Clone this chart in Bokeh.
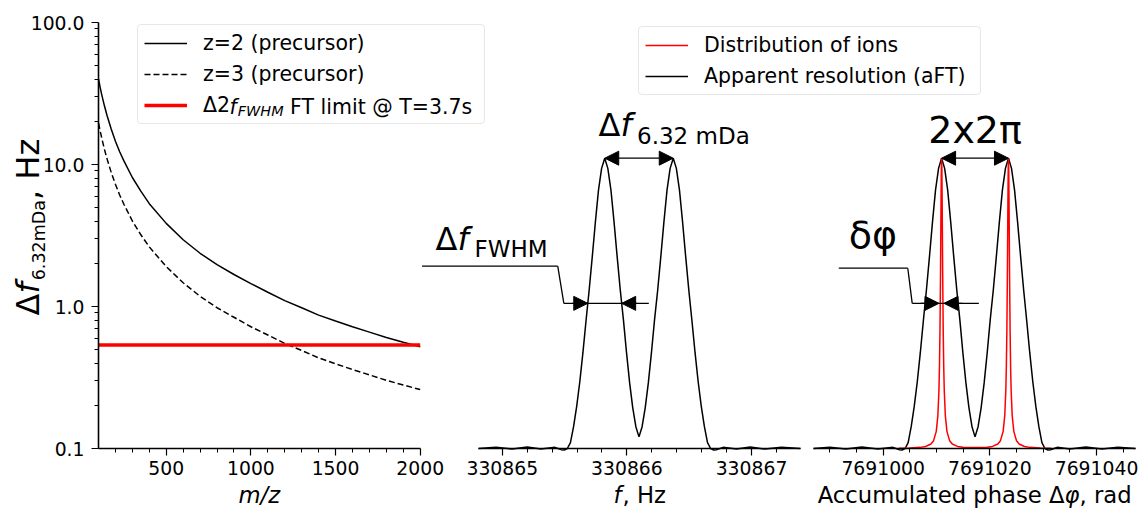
import math
from bokeh.plotting import figure
from bokeh.models import (Range1d, LogScale, LinearAxis, LogAxis, FixedTicker,
                          PrintfTickFormatter, Legend, LegendItem, Label, Arrow, NormalHead)
from bokeh.embed import file_html
from bokeh.resources import INLINE

FONT = "DejaVu Sans"

# ---------------- data ----------------
# Panel 1: frequency spacing of a 6.32 mDa mass difference vs m/z
mz = [100, 110, 120, 135, 150, 175, 200, 225, 250, 300, 350, 400, 500, 600, 700,
      800, 900, 1000, 1100, 1200, 1300, 1400, 1500, 1600, 1700, 1800, 1900, 2000]
df_z2 = [40.0, 34.8, 30.7, 25.9, 22.2, 17.8, 14.6, 12.3, 10.6, 8.1, 6.5, 5.3, 3.85,
         2.95, 2.37, 1.97, 1.68, 1.45, 1.26, 1.10, 0.98, 0.87, 0.79, 0.72, 0.66,
         0.605, 0.56, 0.52]
df_z3 = [19.6, 17.2, 15.2, 12.8, 11.0, 8.8, 7.25, 6.1, 5.25, 4.0, 3.2, 2.63, 1.91,
         1.47, 1.18, 0.98, 0.84, 0.72, 0.63, 0.55, 0.49, 0.435, 0.395, 0.36, 0.33,
         0.302, 0.28, 0.26]
ft_limit_mz = [100, 2000]
ft_limit = [0.535, 0.535]

# Panel 2: apparent (aFT) spectrum in frequency domain
freq_core = [330865.422, 330865.447, 330865.472, 330865.497, 330865.522, 330865.547,
             330865.572, 330865.597, 330865.622, 330865.647, 330865.672, 330865.697,
             330865.722, 330865.747, 330865.772, 330865.797, 330865.822, 330865.847,
             330865.872, 330865.897, 330865.922, 330865.947, 330865.972, 330865.997,
             330866.022, 330866.047, 330866.072, 330866.097, 330866.122, 330866.147,
             330866.172, 330866.197, 330866.222, 330866.247, 330866.272, 330866.297,
             330866.322, 330866.347, 330866.372, 330866.397, 330866.422, 330866.447,
             330866.472, 330866.497, 330866.522, 330866.547, 330866.572, 330866.597,
             330866.622, 330866.647, 330866.672, 330866.697, 330866.722, 330866.747,
             330866.772]
aft_core = [0.004, 0.0, -0.004, -0.005, 0.0, 0.02, 0.075, 0.145, 0.23, 0.33, 0.44,
            0.545, 0.66, 0.78, 0.89, 0.965, 1.0, 0.965, 0.89, 0.78, 0.66, 0.545, 0.444,
            0.33, 0.226, 0.14, 0.075, 0.04, 0.075, 0.14, 0.226, 0.33, 0.444, 0.545,
            0.66, 0.78, 0.89, 0.965, 1.0, 0.965, 0.89, 0.78, 0.66, 0.545, 0.44, 0.33,
            0.23, 0.145, 0.075, 0.02, 0.0, -0.005, -0.004, 0.0, 0.004]
freq_left = [330864.809, 330864.95, 330865.08, 330865.20, 330865.31]
freq_right = [330866.88, 330866.99, 330867.11, 330867.24, 330867.393]
ripple_left = [0.0, 0.004, -0.002, 0.005, -0.002]
ripple_right = [-0.002, 0.005, -0.002, 0.004, 0.0]

# Panel 3: same spectrum in accumulated-phase domain + ion distribution
phase_core = [7691001.83, 7691002.40, 7691002.97, 7691003.54, 7691004.11, 7691004.68,
              7691005.25, 7691005.82, 7691006.39, 7691006.96, 7691007.53, 7691008.10,
              7691008.67, 7691009.24, 7691009.81, 7691010.38, 7691010.95, 7691011.52,
              7691012.09, 7691012.66, 7691013.23, 7691013.80, 7691014.37, 7691014.94,
              7691015.51, 7691016.08, 7691016.65, 7691017.22, 7691017.79, 7691018.36,
              7691018.93, 7691019.50, 7691020.07, 7691020.64, 7691021.21, 7691021.78,
              7691022.35, 7691022.92, 7691023.49, 7691024.06, 7691024.63, 7691025.20,
              7691025.77, 7691026.34, 7691026.91, 7691027.48, 7691028.05, 7691028.62,
              7691029.19, 7691029.76, 7691030.33, 7691030.90, 7691031.47, 7691032.04,
              7691032.61]
phase_left = [7690986.93, 7690990.0, 7690993.0, 7690996.0, 7690999.0]
phase_right = [7691035.0, 7691038.0, 7691041.0, 7691044.0, 7691047.31]

ion_phase = [7691002.95, 7691004.95, 7691006.95, 7691007.95, 7691008.95, 7691009.45,
             7691009.95, 7691010.25, 7691010.45, 7691010.55, 7691010.65, 7691010.75,
             7691010.80, 7691010.85, 7691010.90, 7691010.95, 7691011.00, 7691011.05,
             7691011.10, 7691011.15, 7691011.25, 7691011.35, 7691011.45, 7691011.65,
             7691011.95, 7691012.45, 7691012.95, 7691013.95, 7691014.95, 7691015.95,
             7691017.22,
             7691018.49, 7691019.49, 7691020.49, 7691021.49, 7691021.99, 7691022.49,
             7691022.79, 7691022.99, 7691023.09, 7691023.19, 7691023.29, 7691023.34,
             7691023.39, 7691023.44, 7691023.49, 7691023.54, 7691023.59, 7691023.64,
             7691023.69, 7691023.79, 7691023.89, 7691023.99, 7691024.19, 7691024.49,
             7691024.99, 7691025.49, 7691026.49, 7691027.49, 7691029.49, 7691031.49]
ion_amp = [0.001, 0.0017, 0.0039, 0.0069, 0.0154, 0.027, 0.059, 0.113, 0.2, 0.281,
           0.41, 0.61, 0.735, 0.862, 0.962, 1.0, 0.962, 0.862, 0.735, 0.61, 0.41,
           0.281, 0.2, 0.113, 0.059, 0.027, 0.0154, 0.0072, 0.0043, 0.0031,
           0.0032,
           0.0031, 0.0043, 0.0072, 0.0154, 0.027, 0.059, 0.113, 0.2, 0.281, 0.41,
           0.61, 0.735, 0.862, 0.962, 1.0, 0.962, 0.862, 0.735, 0.61, 0.41, 0.281,
           0.2, 0.113, 0.059, 0.027, 0.0154, 0.0069, 0.0039, 0.0017, 0.001]

# ticks
mz_ticks = [500, 1000, 1500, 2000]
mz_minor = [200, 300, 400, 600, 700, 800, 900, 1100, 1200, 1300, 1400, 1600, 1700, 1800, 1900]
df_ticks = [0.1, 1, 10, 100]
df_minor = [0.2, 0.3, 0.4, 0.5, 0.6, 0.7, 0.8, 0.9, 2, 3, 4, 5, 6, 7, 8, 9,
            20, 30, 40, 50, 60, 70, 80, 90]
freq_ticks = [330865, 330866, 330867]
freq_minor = [330865.2, 330865.4, 330865.6, 330865.8, 330866.2, 330866.4, 330866.6,
              330866.8, 330867.2]
phase_ticks = [7691000, 7691020, 7691040]
phase_minor = [7690990, 7690995, 7691005, 7691010, 7691015, 7691025, 7691030,
               7691035, 7691045]

# ---------------- geometry helpers (canvas pixels -> data) ----------------
W, H = 1143, 512
def px_mz(px): return 100 + (px - 98) * (1900 / 321.7)
def px_hz(px): return 330865 + (px - 501.8) / 124.6
def px_ph(px): return 7691000 + (px - 882.7) / 5.3333
def py_amp(py): return (448 - py) / 290.3
def py_log(py): return 10 ** (-1 + (448 - py) / 142.0)

p = figure(width=W, height=H,
           x_range=Range1d(px_mz(0), px_mz(W)), y_range=Range1d(py_amp(H), py_amp(0)),
           x_axis_type=None, y_axis_type=None,
           toolbar_location=None, output_backend="svg",
           min_border=0, min_border_left=0, min_border_right=0,
           min_border_top=0, min_border_bottom=0)
p.outline_line_color = None
p.background_fill_color = "white"
p.border_fill_color = "white"
p.extra_y_ranges = {"log": Range1d(py_log(H), py_log(0))}
p.extra_y_scales = {"log": LogScale()}
p.extra_x_ranges = {"p2": Range1d(px_hz(0), px_hz(W)),
                    "p3": Range1d(px_ph(0), px_ph(W))}

def style(ax, standoff):
    ax.axis_line_width = 1.6
    ax.axis_line_color = "black"
    ax.major_tick_line_color = "black"
    ax.major_tick_line_width = 1.2
    ax.minor_tick_line_color = "black"
    ax.minor_tick_line_width = 1.0
    ax.major_tick_out = 7
    ax.major_tick_in = 0
    ax.minor_tick_out = 4
    ax.minor_tick_in = 0
    ax.major_label_text_font = FONT
    ax.major_label_text_font_size = "18.8px"
    ax.major_label_text_color = "black"
    ax.major_label_standoff = standoff

yax = LogAxis(y_range_name="log",
              ticker=FixedTicker(ticks=df_ticks, minor_ticks=df_minor),
              formatter=PrintfTickFormatter(format="%.1f"),
              bounds=(0.1, 100), fixed_location=100)
style(yax, 7)
p.add_layout(yax, "left")

ax1 = LinearAxis(ticker=FixedTicker(ticks=mz_ticks, minor_ticks=mz_minor),
                 formatter=PrintfTickFormatter(format="%d"),
                 bounds=(100, 2000), fixed_location=0)
ax2 = LinearAxis(x_range_name="p2",
                 ticker=FixedTicker(ticks=freq_ticks, minor_ticks=freq_minor),
                 formatter=PrintfTickFormatter(format="%d"),
                 bounds=(freq_left[0], freq_right[-1]), fixed_location=0)
ax3 = LinearAxis(x_range_name="p3",
                 ticker=FixedTicker(ticks=phase_ticks, minor_ticks=phase_minor),
                 formatter=PrintfTickFormatter(format="%d"),
                 bounds=(phase_left[0], phase_right[-1]), fixed_location=0)
for a in (ax1, ax2, ax3):
    style(a, 5)
    p.add_layout(a, "below")

# ---------------- glyphs ----------------
r_z2 = p.line(mz, df_z2, y_range_name="log", line_color="black", line_width=1.5)
r_z3 = p.line(mz, df_z3, y_range_name="log", line_color="black", line_width=1.5,
              line_dash="6 3")
r_ft = p.line(ft_limit_mz, ft_limit, y_range_name="log", line_color="#ff0000", line_width=3.5)

x2 = freq_left + freq_core + freq_right
y2 = ripple_left + aft_core + ripple_right
x3 = phase_left + phase_core + phase_right
y3 = ripple_left + aft_core + ripple_right
r_aft2 = p.line(x2, y2, x_range_name="p2", line_color="black", line_width=1.5)
r_aft3 = p.line(x3, y3, x_range_name="p3", line_color="black", line_width=1.5)
r_ion = p.line(ion_phase, ion_amp, x_range_name="p3", line_color="#ff0000", line_width=1.5)

# ---------------- legends ----------------
def mk_legend(items, loc, lw):
    lg = Legend(items=items, location=loc, margin=0, padding=6, spacing=7,
                glyph_width=43, glyph_height=24, label_height=24, label_standoff=16,
                label_width=lw, label_text_font=FONT, label_text_font_size="20.5px",
                label_text_color="black", border_line_color="#d0d0d0",
                border_line_width=1.2, background_fill_alpha=0.0)
    try:
        lg.border_radius = 4
    except Exception:
        pass
    p.add_layout(lg, "center")

mk_legend([LegendItem(label="z=2 (precursor)", renderers=[r_z2]),
           LegendItem(label="z=3 (precursor)", renderers=[r_z3]),
           LegendItem(label="Δ2", renderers=[r_ft])], (137, H - 124), 275)
mk_legend([LegendItem(label="Distribution of ions", renderers=[r_ion]),
           LegendItem(label="Apparent resolution (aFT)", renderers=[r_aft3])],
          (638, H - 95), 270)

# ---------------- text helpers ----------------
R = math.pi / 2
K = 0.4  # empirical baseline correction of the svg text renderer (fraction of em)

def T(text, px, py, size, style="normal", align="left", baseline="alphabetic", angle=0.0):
    if baseline == "alphabetic":
        if angle == 0.0:
            py -= K * size
        else:
            px -= K * size
    p.add_layout(Label(x=px_mz(px), y=py_amp(py), text=text, text_font=FONT,
                       text_font_size=f"{size}px", text_font_style=style,
                       text_color="black", text_align=align, text_baseline=baseline,
                       angle=angle, level="overlay"))

# legend entry 3 (mixed styles)
T("f", 229.1, 106, 20.5, "italic", baseline="middle")
T("FWHM", 237.3, 110, 14.4, "italic", baseline="middle")
T("FT limit @ T=3.7s", 289.6, 106, 20.5, baseline="middle")

# y axis label (rotated)
T("Δ", 40, 315, 32, angle=R)
T("f", 40, 293.1, 32, "italic", angle=R)
T("6.32mDa", 45, 279.8, 17.5, angle=R)
T(", Hz", 40, 199.5, 32, angle=R)

# x axis labels
T("m/z", 258.8, 504, 22.7, "italic", align="center")
T("f", 613, 504, 22.7, "italic")
T(", Hz", 622, 504, 22.7)
T("Accumulated phase Δ", 1064, 504, 22.7, align="right")
T("φ", 1064, 504, 22.7, "italic")
T(", rad", 1079, 504, 22.7)

# annotations panel 2
T("Δ", 598, 137.7, 32)
T("f", 619.9, 137.7, 32, "italic")
T("6.32 mDa", 636.5, 145, 23)
T("Δ", 435, 251.7, 32)
T("f", 456.9, 251.7, 32, "italic")
T("FWHM", 474, 258, 23)
# annotations panel 3
T("2x2π", 927.7, 144.3, 38)
T("δφ", 848.3, 250, 38)

def head():
    return NormalHead(size=14, fill_color="black", line_color="black", line_width=1)

def seg(x0, y0, x1, y1, rng, start=False, end=False):
    p.add_layout(Arrow(x_start=x0, y_start=y0, x_end=x1, y_end=y1, x_range_name=rng,
                       line_color="black", line_width=1.3,
                       start=head() if start else None, end=head() if end else None))

# panel 2 arrows
pk1f, pk2f = freq_core[16], freq_core[38]
seg(pk1f, 1.0, pk2f, 1.0, "p2", start=True, end=True)
seg(330864.356, 0.628, 330865.445, 0.628, "p2")
seg(330865.445, 0.628, 330865.494, 0.5, "p2")
seg(330865.494, 0.5, 330866.176, 0.5, "p2")
seg(330865.561, 0.5, 330865.686, 0.5, "p2", end=True)
seg(330866.083, 0.5, 330865.958, 0.5, "p2", end=True)
# panel 3 arrows
pk1p, pk2p = phase_core[16], phase_core[38]
seg(pk1p, 1.0, pk2p, 1.0, "p3", start=True, end=True)
seg(7690991.67, 0.621, 7691004.61, 0.621, "p3")
seg(7691004.61, 0.621, 7691005.44, 0.5, "p3")
seg(7691005.44, 0.5, 7691017.93, 0.5, "p3")
seg(7691006.99, 0.5, 7691010.46, 0.5, "p3", end=True)
seg(7691014.87, 0.5, 7691011.40, 0.5, "p3", end=True)

open("out.html", "w").write(file_html(p, INLINE))
